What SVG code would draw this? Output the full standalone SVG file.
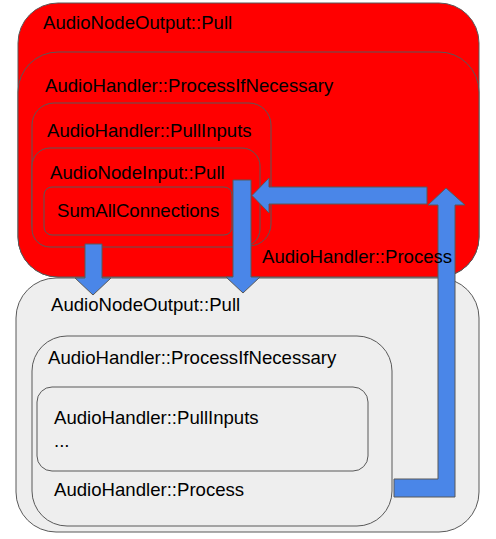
<svg xmlns="http://www.w3.org/2000/svg" width="496" height="539" viewBox="0 0 496 539">
<style>
.box{stroke:#595959;stroke-width:1}
.red{fill:#ff0000}
.grey{fill:#eeeeee}
text{font-family:"Liberation Sans",Arial,sans-serif;font-size:18.6px;fill:#000}
.arrow{fill:#4a86e8;stroke:#595959;stroke-width:1}
</style>
<rect width="496" height="539" fill="#ffffff"/>
<g id="top-output-pull">
<rect class="box red" x="18" y="3" width="461" height="274" rx="40" ry="40"/>
<text x="43" y="29">AudioNodeOutput::Pull</text>
</g>
<g id="top-process-if-necessary">
<rect class="box red" x="18" y="52" width="461" height="225" rx="40" ry="40"/>
<text x="45" y="92">AudioHandler::ProcessIfNecessary</text>
</g>
<g id="top-pull-inputs">
<rect class="box red" x="32" y="103" width="239" height="143" rx="22" ry="22"/>
<text x="47" y="137">AudioHandler::PullInputs</text>
</g>
<g id="top-input-pull">
<rect class="box red" x="32" y="148" width="228" height="99" rx="18" ry="18"/>
<text x="50" y="179">AudioNodeInput::Pull</text>
</g>
<g id="sum-all-connections">
<rect class="box red" x="44" y="187" width="188" height="48" rx="8" ry="8"/>
<text x="57" y="217">SumAllConnections</text>
</g>
<g id="bottom-output-pull">
<rect class="box grey" x="16" y="278" width="463" height="254" rx="40" ry="40"/>
<text x="51" y="311">AudioNodeOutput::Pull</text>
</g>
<g id="bottom-process-if-necessary">
<rect class="box grey" x="32" y="336" width="360" height="190" rx="35" ry="35"/>
<text x="48" y="364">AudioHandler::ProcessIfNecessary</text>
<text x="54" y="496">AudioHandler::Process</text>
</g>
<g id="bottom-pull-inputs">
<rect class="box grey" x="37" y="387" width="331" height="84" rx="15" ry="15"/>
<text x="54" y="424">AudioHandler::PullInputs</text>
<text x="54" y="447">...</text>
</g>
<g id="connectors">
<polygon class="arrow" points="85,244 102,244 102,278 111,278 93,295 75,278 85,278"/>
<polygon class="arrow" points="233,180 251,180 251,277 260,277 243,293 226,277 233,277"/>
<polygon class="arrow" points="427,187 269,187 269,178 252,195.5 269,213 269,204 427,204"/>
<polygon class="arrow" points="394,479 438,479 438,205 428,205 446,188 465,205 455,205 455,497 394,497"/>
</g>
<g id="top-process-label">
<text x="262" y="263">AudioHandler::Process</text>
</g>
</svg>
